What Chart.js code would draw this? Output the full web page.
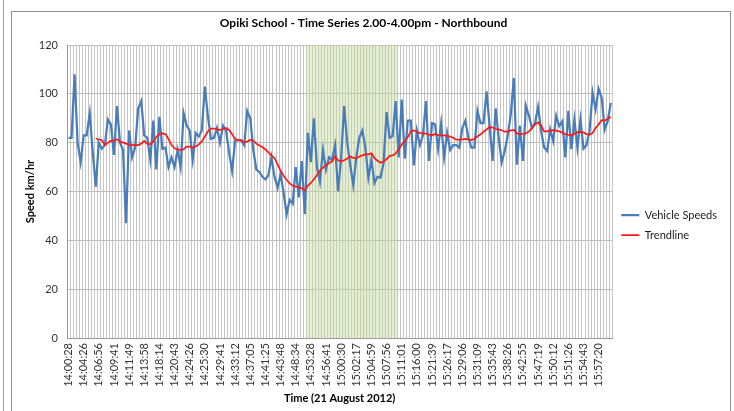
<!DOCTYPE html>
<html>
<head>
<meta charset="utf-8">
<script src="https://cdn.jsdelivr.net/npm/chart.js@4/dist/chart.umd.min.js"></script>
<style>
  html, body { margin: 0; padding: 0; background: #fff; }
  #wrap { position: relative; width: 734px; height: 411px; overflow: hidden; }
  #speedChart { position: absolute; left: 0; top: 0; }
  .frame { position: absolute; left: 11px; top: 11px; width: 718px; height: 420px; border: 1px solid #8e8e8e; pointer-events: none; }
  .edge { position: absolute; left: 3px; top: 0; width: 0; height: 411px; border-left: 1px solid #9a9a9a; pointer-events: none; }
</style>
</head>
<body>
<div id="wrap">
  <canvas id="speedChart" width="734" height="411"></canvas>
  <div class="edge"></div>
  <div class="frame"></div>
</div>
<script>
// tick labels shown every 5th reading
const tickLabels = [
  '14:00:28', '14:04:26', '14:06:56', '14:09:41', '14:11:49', '14:13:58',
  '14:18:14', '14:20:43', '14:24:26', '14:25:30', '14:29:41', '14:33:12',
  '14:37:05', '14:41:25', '14:43:48', '14:48:34', '14:53:28', '14:56:41',
  '15:00:30', '15:02:17', '15:04:59', '15:07:56', '15:11:01', '15:16:00',
  '15:21:39', '15:26:17', '15:29:06', '15:31:09', '15:35:43', '15:38:26',
  '15:42:55', '15:47:19', '15:50:12', '15:51:26', '15:54:43', '15:57:20'
];
const labelStep = 5;

// km/hr, one per vehicle
const vehicleSpeeds = [
  82, 82, 108, 80, 72, 83, 83, 92, 76, 62,
  80, 77.5, 79, 89.5, 87.5, 75, 95, 80, 77, 47,
  85, 74, 78, 94, 97, 83, 82, 73, 89, 69,
  90.6, 77.5, 78, 70, 74, 70, 77, 70, 92, 87,
  85, 73, 84, 82.5, 85, 103, 91, 81.6, 82, 86,
  80, 87, 85, 76, 68.4, 80.7, 81, 81, 79, 93,
  90, 77, 69, 68, 66, 65, 66.7, 74, 66, 61.6,
  67, 59.6, 50.7, 56.6, 55, 70, 57.6, 72.5, 50.7, 84,
  72, 90, 70, 64, 77, 69, 74, 73, 79, 60,
  74, 95, 80, 71, 62.6, 74, 82, 85, 78, 65.7,
  73, 63.4, 66, 65.7, 71.6, 92.5, 82, 82.7, 97, 74,
  97.7, 73.5, 89, 89, 70.7, 85, 79, 83, 97, 72.5,
  88, 87.5, 77.5, 88, 74, 84, 77, 79, 79, 78,
  86, 89, 82, 78, 78, 93, 88, 88, 101, 87,
  72.5, 94, 82, 72, 76.6, 83, 91.6, 106.5, 71, 87,
  72.5, 95, 91, 86, 88, 94.7, 85, 78, 76.6, 85.4,
  80.7, 91, 86.8, 88.8, 74, 93, 77.3, 89.5, 78, 89.5,
  77.6, 79, 84.8, 100.4, 93.6, 102, 98.4, 85.4, 88.8, 96.3
];

const trendline = [
  null, null, null, null, null, null, null, null, null,
  81.6, 81.4, 81, 79, 80, 80.7, 80.7, 81.4, 80.5, 80,
  79.6, 79.2, 79, 79, 79, 79.6, 80.7, 79.6, 79.3, 80.5,
  82.4, 83.4, 83.8, 83.5, 81.5, 79, 77.7, 77.2, 77, 77.3,
  78.4, 78.4, 78, 78.4, 79.3, 80.5, 82.5, 84.6, 85.8, 85.8,
  85.4, 85.2, 85.6, 86, 85.2, 83.5, 81.5, 81, 80.8, 80.2,
  80.4, 81.2, 80.8, 79.6, 78.8, 78.2, 77.2, 76, 74.7, 73.7,
  71.2, 68.5, 66.4, 64.8, 63.3, 62.4, 62, 61.8, 61.3, 60.4,
  62.4, 63.5, 65, 66.7, 68.5, 69.8, 70.8, 71.7, 72.3, 74.4,
  72.7, 72.4, 72.8, 73.5, 74.3, 73.8, 73.6, 74.3, 74.8, 75.2,
  75.2, 75.6, 73.7, 72.6, 71.8, 72.3, 73.3, 74.6, 74.8, 75.6,
  77.3, 79.2, 80.7, 82.3, 84.7, 85, 84.5, 83.9, 83.8, 83.7,
  83.3, 83, 83.6, 83.1, 83, 83, 82.8, 82.5, 82, 81.2,
  81.2, 81.3, 81.5, 81.3, 81.1, 81.6, 82.6, 83.3, 84.5, 85.4,
  86.4, 86.2, 85.6, 85.4, 85.1, 84.5, 84.5, 85, 85.2, 83.8,
  83.5, 83.6, 83.8, 84.6, 86, 87.5, 88.3, 87, 84.6, 84.6,
  84.9, 85.1, 84.9, 84.6, 84.1, 83.5, 83.2, 83, 83.6, 84.3,
  84.4, 84.2, 83.5, 83.2, 84, 86, 87.5, 89.2, 89, 89.8,
  90.6
];

// readings inside the green band (first and last index)
const shadeFrom = 79;
const shadeTo = 108;
const shadeTop = 120;

const categories = vehicleSpeeds.map((_, i) => (i % labelStep === 0 ? tickLabels[i / labelStep] || '' : ''));
const shading = vehicleSpeeds.map((_, i) => (i >= shadeFrom && i <= shadeTo ? shadeTop : null));

Chart.defaults.font.family = 'Lato, "Noto Sans", sans-serif';
Chart.defaults.color = '#333';

const ctx = document.getElementById('speedChart');

new Chart(ctx, {
  data: {
    labels: categories,
    datasets: [
      {
        type: 'line',
        label: 'Vehicle Speeds',
        data: vehicleSpeeds,
        borderColor: '#4a7ebb',
        backgroundColor: '#4a7ebb',
        borderWidth: 2.25,
        pointRadius: 0,
        tension: 0,
        order: 1
      },
      {
        type: 'line',
        label: 'Trendline',
        data: trendline,
        borderColor: '#ff1a1a',
        backgroundColor: '#ff1a1a',
        borderWidth: 1.75,
        pointRadius: 0,
        tension: 0,
        order: 0
      },
      {
        type: 'bar',
        label: 'band',
        data: shading,
        backgroundColor: 'rgba(196, 215, 155, 0.42)',
        borderWidth: 0,
        barPercentage: 1,
        categoryPercentage: 1,
        order: 2
      }
    ]
  },
  options: {
    responsive: false,
    animation: false,
    layout: { padding: { left: 0, right: 7, top: 0, bottom: 0 } },
    plugins: {
      title: {
        display: true,
        text: 'Opiki School - Time Series 2.00-4.00pm - Northbound',
        color: '#000',
        font: { size: 12, weight: 'bold' },
        padding: { top: 16, bottom: 14.6 }
      },
      legend: {
        position: 'right',
        align: 'center',
        title: { display: true, text: ' ', font: { size: 11 }, padding: { top: 26, bottom: 0 } },
        labels: {
          usePointStyle: true,
          pointStyle: 'line',
          pointStyleWidth: 18,
          padding: 9,
          color: '#222',
          font: { size: 11 },
          filter: (item) => item.text !== 'band',
          sort: (a, b) => a.datasetIndex - b.datasetIndex
        }
      },
      tooltip: { enabled: false }
    },
    scales: {
      x: {
        offset: true,
        grid: { offset: true, color: '#c6c6c6', lineWidth: 1, drawTicks: false },
        border: { color: '#9a9a9a' },
        ticks: {
          autoSkip: false,
          minRotation: 90,
          maxRotation: 90,
          padding: 5,
          font: { size: 11 },
          color: '#333',
          callback: (v, i) => categories[i]
        },
        title: {
          display: true,
          text: 'Time (21 August 2012)',
          color: '#000',
          font: { size: 11, weight: 'bold' },
          padding: { top: 0, bottom: 6.4 }
        },
        afterFit: (scale) => { scale.height = 73; }
      },
      y: {
        min: 0,
        max: 120,
        ticks: { stepSize: 20, padding: 9, font: { size: 11 }, color: '#333' },
        grid: { color: '#bdbdbd', drawTicks: false },
        border: { color: '#9a9a9a' },
        title: {
          display: true,
          text: 'Speed km/hr',
          color: '#000',
          font: { size: 11, weight: 'bold' },
          padding: { top: 23.4, bottom: 0 }
        },
        afterFit: (scale) => { scale.width = 67; }
      }
    }
  }
});
</script>
</body>
</html>
